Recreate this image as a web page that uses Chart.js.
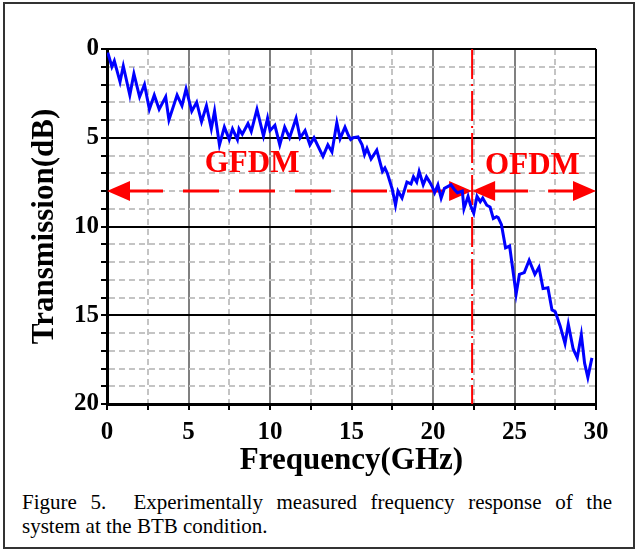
<!DOCTYPE html>
<html>
<head>
<meta charset="utf-8">
<script src="https://cdn.jsdelivr.net/npm/chart.js@4"></script>
<style>
  body { margin: 0; background: #fff; }
  #fig { position: relative; width: 639px; height: 550px; font-family: "Liberation Serif", "Times New Roman", serif; }
  #frame { position: absolute; left: 3px; top: 2px; width: 628px; height: 543px; border: 2px solid #333; }
  #chart { position: absolute; left: 0; top: 0; }
  #caption { position: absolute; left: 22px; top: 490px; width: 590px; font-size: 21px; line-height: 24px; color: #000; }
  #caption .l1 { text-align: justify; text-align-last: justify; white-space: nowrap; }
</style>
</head>
<body>
<div id="fig">
  <div id="frame"></div>
  <canvas id="chart" width="639" height="480"></canvas>
  <div id="caption">
    <div class="l1">Figure 5.&nbsp; Experimentally measured frequency response of the</div>
    <div>system at the BTB condition.</div>
  </div>
</div>
<script>
const freq = [0.05, 0.3, 0.45, 0.8, 1.0, 1.4, 1.65, 2.0, 2.3, 2.6, 2.9, 3.2, 3.6, 3.8, 4.3, 4.6, 4.85,
  5.2, 5.5, 5.8, 6.1, 6.4, 6.6, 6.9, 7.2, 7.5, 7.7, 8.0, 8.1, 8.3, 8.65, 8.85, 9.2, 9.6, 9.85,
  10.0, 10.3, 10.6, 10.9, 11.2, 11.6, 11.85, 12.15, 12.45, 12.7, 13.25, 13.55, 13.8, 14.1, 14.3, 14.6, 14.8,
  14.95, 15.1, 15.4, 15.65, 15.8, 15.95, 16.2, 16.55, 16.9, 17.05, 17.2, 17.5, 17.7, 17.85, 18.1, 18.4, 18.65,
  18.8, 19.0, 19.15, 19.4, 19.6, 19.8, 19.95, 20.1, 20.3, 20.5, 20.7, 20.9, 21.1, 21.3, 21.5, 21.8, 21.9,
  22.15, 22.3, 22.5, 22.7, 22.9, 23.05, 23.3, 23.5, 23.7, 23.9, 24.0, 24.2, 24.45, 24.7, 25.1, 25.3, 25.6,
  25.9, 26.25, 26.5, 26.75, 27.05, 27.3, 27.5, 27.8, 28.1, 28.3, 28.6, 28.85, 29.1, 29.3, 29.5, 29.75];
const transmission = [0.2, 1.0, 0.67, 1.85, 0.96, 2.6, 1.4, 2.7, 2.0, 3.4, 2.6, 3.4, 2.7, 4.0, 2.6, 3.2, 2.25,
  3.5, 3.0, 4.1, 3.2, 4.5, 3.5, 5.4, 4.4, 5.1, 4.5, 5.1, 4.5, 4.8, 4.2, 4.65, 3.4, 4.9, 3.9,
  4.6, 4.3, 5.4, 4.4, 5.0, 3.9, 5.0, 4.6, 5.4, 5.0, 6.05, 5.4, 5.8, 4.15, 5.05, 4.4, 4.85,
  5.1, 5.0, 4.95, 5.4, 5.95, 5.6, 6.2, 5.7, 6.9, 6.7, 7.0, 7.9, 8.8, 8.0, 8.4, 7.5, 7.6,
  7.2, 7.5, 6.9, 7.65, 7.2, 7.5, 7.75, 8.1, 7.65, 8.4, 7.85, 7.75, 7.65, 7.9, 8.1, 8.0, 9.0,
  8.3, 8.8, 9.25, 8.3, 8.6, 8.4, 8.8, 8.9, 9.55, 9.45, 9.5, 9.9, 11.2, 11.1, 13.8, 12.7, 12.6,
  11.9, 12.7, 12.3, 13.5, 13.45, 14.7, 14.8, 15.6, 16.6, 15.5, 16.9, 17.4, 16.1, 17.7, 18.5, 17.4];

// annotation: two regions split at the boundary frequency
const regionLabels = ['GFDM', 'OFDM'];
const regionStart = [0, 22.4];
const regionEnd = [22.4, 30];
const labelX = [8.9, 26.1];
const labelY = [6.45, 6.6];
const arrowLevel = 8;
const boundaryX = 22.4;

const serif = '"Liberation Serif", "Times New Roman", serif';
const RED = '#ff0000';

function arrowHead(ctx, tipX, tipY, dir) {
  ctx.beginPath();
  ctx.moveTo(tipX, tipY);
  ctx.lineTo(tipX + dir * 23, tipY - 10);
  ctx.lineTo(tipX + dir * 23, tipY + 10);
  ctx.closePath();
  ctx.fill();
}

const regionMarks = {
  id: 'regionMarks',
  beforeDatasetsDraw(chart) {
    const { ctx, scales: { x, y } } = chart;
    ctx.save();
    ctx.strokeStyle = RED;
    ctx.fillStyle = RED;

    // dash-dot boundary line
    const bx = x.getPixelForValue(boundaryX);
    ctx.lineWidth = 2;
    ctx.setLineDash([30, 5, 2, 5]);
    ctx.beginPath();
    ctx.moveTo(bx, y.getPixelForValue(0));
    ctx.lineTo(bx, y.getPixelForValue(20));
    ctx.stroke();

    // double headed dashed arrows
    const ay = y.getPixelForValue(arrowLevel);
    regionStart.forEach((s, i) => {
      const x0 = x.getPixelForValue(s);
      const x1 = x.getPixelForValue(regionEnd[i]);
      ctx.lineWidth = 3;
      ctx.setLineDash([36, 20]);
      ctx.beginPath();
      ctx.moveTo(x0 + 20, ay);
      ctx.lineTo(x1 - 20, ay);
      ctx.stroke();
      ctx.setLineDash([]);
      arrowHead(ctx, x0, ay, 1);
      arrowHead(ctx, x1, ay, -1);
    });
    ctx.restore();
  },
  afterDatasetsDraw(chart) {
    const { ctx, scales: { x, y } } = chart;
    ctx.save();
    ctx.fillStyle = RED;
    ctx.font = 'bold 31px ' + serif;
    ctx.textAlign = 'center';
    ctx.textBaseline = 'middle';
    regionLabels.forEach((t, i) => {
      ctx.fillText(t, x.getPixelForValue(labelX[i]), y.getPixelForValue(labelY[i]));
    });
    ctx.restore();
  }
};

const ctx = document.getElementById('chart').getContext('2d');

new Chart(ctx, {
  type: 'scatter',
  data: {
    datasets: [{
      data: freq.map((f, i) => ({ x: f, y: transmission[i] })),
      showLine: true,
      borderColor: '#0000ff',
      borderWidth: 3,
      pointRadius: 0,
      tension: 0,
    }],
  },
  options: {
    responsive: false,
    animation: false,
    layout: { padding: { left: 0, right: 43, top: 49, bottom: 0 } },
    plugins: {
      legend: { display: false },
      tooltip: { enabled: false },
    },
    scales: {
      x: {
        type: 'linear',
        min: 0,
        max: 30,
        afterFit(scale) { scale.height = 76; },
        ticks: {
          stepSize: 2.5,
          autoSkip: false,
          maxRotation: 0,
          color: '#000',
          padding: 8,
          font: { family: serif, size: 25, weight: 'bold' },
          callback: v => (v % 5 === 0 ? v : ''),
        },
        grid: {
          color: c => (c.tick.value === 30 ? '#000' : c.tick.value % 5 === 0 ? '#808080' : '#c4c4c4'),
          lineWidth: 2,
          tickColor: '#000',
          tickLength: 6,
          tickWidth: 2,
        },
        border: {
          color: '#000',
          width: 3,
          dash: c => (c.tick && c.tick.value % 5 !== 0 ? [6, 4] : []),
        },
        title: {
          display: true,
          text: 'Frequency(GHz)',
          color: '#000',
          font: { family: serif, size: 31, weight: 'bold' },
          padding: { top: 0, bottom: 0 },
        },
      },
      y: {
        min: 0,
        max: 20,
        reverse: true,
        afterFit(scale) { scale.width = 107; },
        ticks: {
          stepSize: 1,
          autoSkip: false,
          color: '#000',
          padding: 2,
          font: { family: serif, size: 25, weight: 'bold' },
          callback: v => (v % 5 === 0 ? v : ''),
        },
        grid: {
          color: c => (c.tick.value % 5 === 0 ? '#000' : '#c4c4c4'),
          lineWidth: 2,
          tickColor: '#000',
          tickLength: 6,
          tickWidth: 2,
        },
        border: {
          color: '#000',
          width: 3,
          dash: c => (c.tick && c.tick.value % 5 !== 0 ? [6, 4] : []),
        },
        title: {
          display: true,
          text: 'Transmission(dB)',
          color: '#000',
          font: { family: serif, size: 31, weight: 'bold' },
          padding: { top: 26, bottom: 0 },
        },
      },
    },
  },
  plugins: [regionMarks],
});
</script>
</body>
</html>
